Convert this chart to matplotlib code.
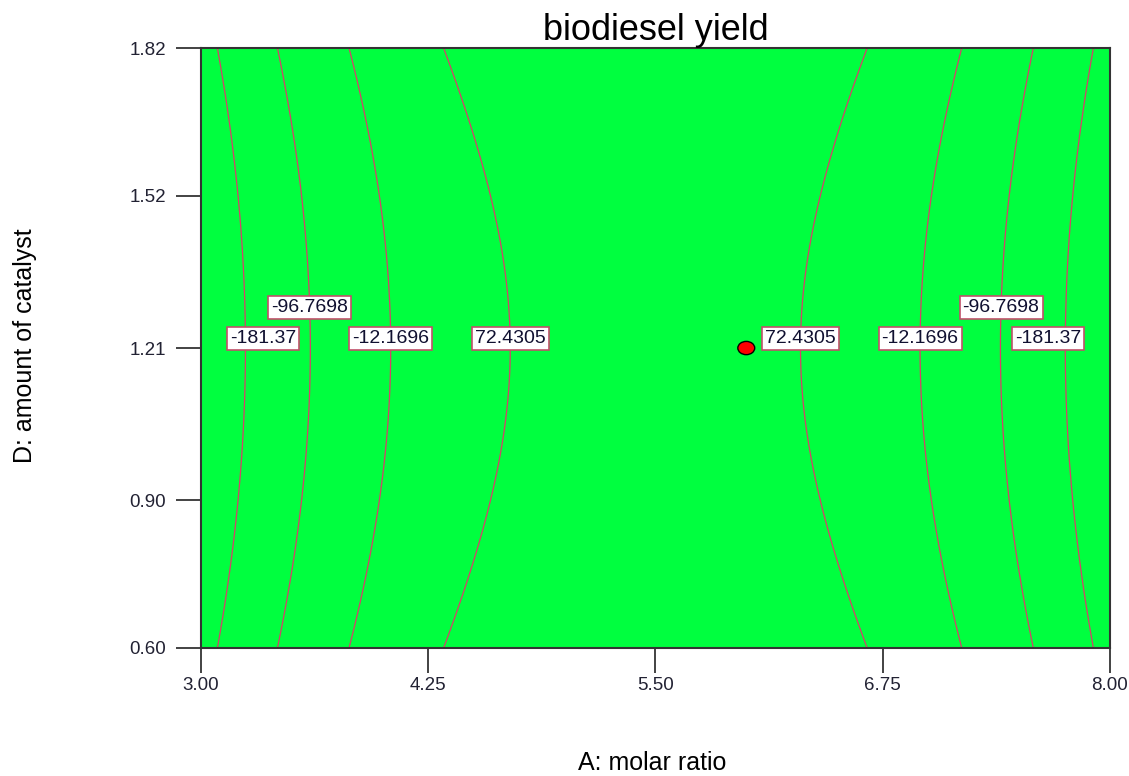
import numpy as np
import matplotlib.pyplot as plt
from matplotlib.patches import Ellipse

plt.rcParams['font.family'] = ['Liberation Sans', 'DejaVu Sans']

# fitted response surface: yield = c - a*(A - A0)^2 + b*(D - D0)^2
A0, D0 = 5.50, 1.21
c0, a2, b2 = 108.8, 57.05, 110.4

levels = [-181.37, -96.7698, -12.1696, 72.4305]
level_text = ['-181.37', '-96.7698', '-12.1696', '72.4305']
label_D = [1.230, 1.292, 1.230, 1.230]

design_point = (6.00, 1.21)

x_ticks = [3.00, 4.25, 5.50, 6.75, 8.00]
y_ticks = [0.60, 0.90, 1.21, 1.52, 1.82]


def response(A, D):
    return c0 - a2 * (A - A0) ** 2 + b2 * (D - D0) ** 2


A = np.linspace(3.0, 8.0, 500)
D = np.linspace(0.60, 1.82, 400)
AA, DD = np.meshgrid(A, D)
Z = response(AA, DD)

fig = plt.figure(figsize=(11.29, 7.76), dpi=100)
ax = fig.add_axes([0.178, 0.165, 0.805, 0.773])
ax.set_facecolor('#00ff3f')

line_col = '#d8406a'
ax.contour(AA, DD, Z, levels=levels, colors=line_col, linewidths=0.9,
           linestyles='solid', zorder=2)

# contour labels, one on each side of the ridge
for lev, txt, yd in zip(levels, level_text, label_D):
    u = np.sqrt((c0 - lev + b2 * (yd - D0) ** 2) / a2)
    for xl in (A0 - u, A0 + u):
        xl = np.clip(xl, 3.34, 7.66)
        ax.text(xl, yd, txt, ha='center', va='center', fontsize=14,
                color='#101030', zorder=4,
                bbox=dict(boxstyle='square,pad=0.16', fc='white',
                          ec='#c0506a', lw=1.2))

ax.add_patch(Ellipse(design_point, width=0.093, height=0.027,
                     fc='#ff0000', ec='black', lw=1.0, zorder=5))

ax.set_xlim(3.0, 8.0)
ax.set_ylim(0.60, 1.82)
ax.set_xticks(x_ticks)
ax.set_yticks(y_ticks)
ax.set_xticklabels([f'{t:.2f}' for t in x_ticks])
ax.set_yticklabels([f'{t:.2f}' for t in y_ticks])
ax.tick_params(axis='both', length=18, width=1.2, color='#222222',
               labelsize=13.5, labelcolor='#222233')
ax.tick_params(axis='x', pad=3)
ax.tick_params(axis='y', pad=7)
for s in ax.spines.values():
    s.set_linewidth(1.5)
    s.set_color('#333333')

ax.set_title('biodiesel yield', fontsize=26, pad=4)
fig.text(0.578, 0.017, 'A: molar ratio', fontsize=18, ha='center', va='center')
fig.text(0.022, 0.555, 'D: amount of catalyst', fontsize=18, rotation=90,
         ha='center', va='center')

fig.savefig('out.png', dpi=100)
